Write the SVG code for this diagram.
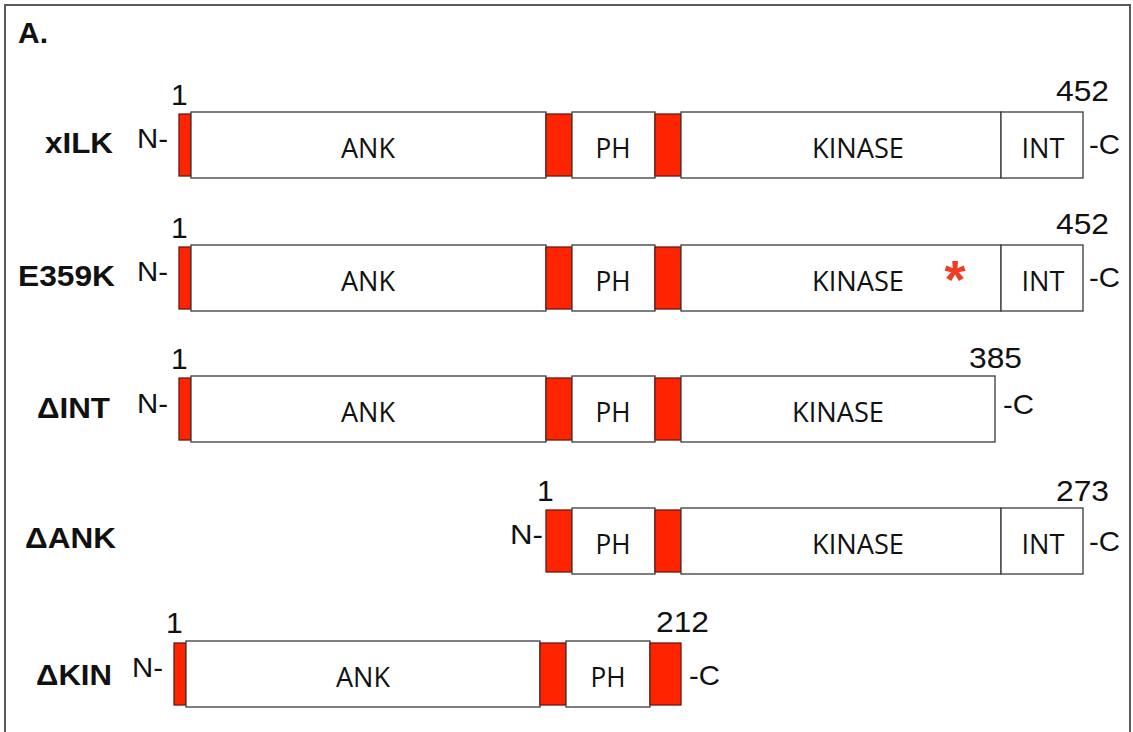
<svg xmlns="http://www.w3.org/2000/svg" width="1133" height="732" viewBox="0 0 1133 732">
<style>
.frame{fill:#fff;stroke:#5a5a5a;stroke-width:2}
.box{fill:#fff;stroke:#3a3a3a;stroke-width:1.3}
.red{fill:#ff2400;stroke:#6a1a10;stroke-width:1.3}
.dom{font-family:"Open Sans",sans-serif;font-size:28px;fill:#111;text-anchor:middle}
.lab{font-family:"Liberation Sans",Arial,sans-serif;font-weight:bold;font-size:30px;fill:#111}
.t{font-family:"Liberation Sans",Arial,sans-serif;font-size:28px;fill:#111}
.num{font-family:"Liberation Sans",Arial,sans-serif;font-size:30px;fill:#111}
.star{font-family:"Liberation Sans",Arial,sans-serif;font-weight:bold;font-size:54px;fill:#f03c24;text-anchor:middle}
</style>
<rect class="frame" x="5" y="5" width="1125" height="740"/>
<text class="lab" x="18" y="43" font-size="27">A.</text>

<g id="xILK">
<text class="lab" x="45" y="153" textLength="68" lengthAdjust="spacingAndGlyphs">xILK</text>
<text class="t" x="137" y="148" textLength="31" lengthAdjust="spacingAndGlyphs">N-</text>
<text class="num" x="171" y="105">1</text>
<text class="num" x="1056" y="101" textLength="53" lengthAdjust="spacingAndGlyphs">452</text>
<rect class="red" x="179" y="114" width="12" height="62"/>
<rect class="box" x="191" y="112" width="355" height="66"/>
<rect class="red" x="546" y="114" width="26" height="62"/>
<rect class="box" x="572" y="112" width="83" height="66"/>
<rect class="red" x="655" y="114" width="26" height="62"/>
<rect class="box" x="681" y="112" width="320" height="66"/>
<rect class="box" x="1001" y="112" width="82" height="66"/>
<text class="dom" x="368" y="158" textLength="54" lengthAdjust="spacingAndGlyphs">ANK</text>
<text class="dom" x="613" y="158" textLength="35" lengthAdjust="spacingAndGlyphs">PH</text>
<text class="dom" x="858" y="158" textLength="92" lengthAdjust="spacingAndGlyphs">KINASE</text>
<text class="dom" x="1043" y="158" textLength="43" lengthAdjust="spacingAndGlyphs">INT</text>
<text class="t" x="1089" y="154" textLength="31" lengthAdjust="spacingAndGlyphs">-C</text>
</g>

<g id="E359K">
<text class="lab" x="18" y="286" textLength="97" lengthAdjust="spacingAndGlyphs">E359K</text>
<text class="t" x="137" y="281" textLength="31" lengthAdjust="spacingAndGlyphs">N-</text>
<text class="num" x="171" y="238">1</text>
<text class="num" x="1056" y="234" textLength="53" lengthAdjust="spacingAndGlyphs">452</text>
<rect class="red" x="179" y="247" width="12" height="62"/>
<rect class="box" x="191" y="245" width="355" height="66"/>
<rect class="red" x="546" y="247" width="26" height="62"/>
<rect class="box" x="572" y="245" width="83" height="66"/>
<rect class="red" x="655" y="247" width="26" height="62"/>
<rect class="box" x="681" y="245" width="320" height="66"/>
<rect class="box" x="1001" y="245" width="82" height="66"/>
<text class="dom" x="368" y="291" textLength="54" lengthAdjust="spacingAndGlyphs">ANK</text>
<text class="dom" x="613" y="291" textLength="35" lengthAdjust="spacingAndGlyphs">PH</text>
<text class="dom" x="858" y="291" textLength="92" lengthAdjust="spacingAndGlyphs">KINASE</text>
<text class="dom" x="1043" y="291" textLength="43" lengthAdjust="spacingAndGlyphs">INT</text>
<text class="star" x="955" y="298">*</text>
<text class="t" x="1089" y="287" textLength="31" lengthAdjust="spacingAndGlyphs">-C</text>
</g>

<g id="dINT">
<text class="lab" x="37" y="418" textLength="73" lengthAdjust="spacingAndGlyphs">ΔINT</text>
<text class="t" x="137" y="413" textLength="31" lengthAdjust="spacingAndGlyphs">N-</text>
<text class="num" x="171" y="369">1</text>
<text class="num" x="969" y="368" textLength="53" lengthAdjust="spacingAndGlyphs">385</text>
<rect class="red" x="179" y="378" width="12" height="62"/>
<rect class="box" x="191" y="376" width="355" height="66"/>
<rect class="red" x="546" y="378" width="26" height="62"/>
<rect class="box" x="572" y="376" width="83" height="66"/>
<rect class="red" x="655" y="378" width="26" height="62"/>
<rect class="box" x="681" y="376" width="314" height="66"/>
<text class="dom" x="368" y="422" textLength="54" lengthAdjust="spacingAndGlyphs">ANK</text>
<text class="dom" x="613" y="422" textLength="35" lengthAdjust="spacingAndGlyphs">PH</text>
<text class="dom" x="838" y="422" textLength="92" lengthAdjust="spacingAndGlyphs">KINASE</text>
<text class="t" x="1003" y="414" textLength="31" lengthAdjust="spacingAndGlyphs">-C</text>
</g>

<g id="dANK">
<text class="lab" x="25" y="548" textLength="91" lengthAdjust="spacingAndGlyphs">ΔANK</text>
<text class="t" x="510" y="544" textLength="33" lengthAdjust="spacingAndGlyphs">N-</text>
<text class="num" x="537" y="501">1</text>
<text class="num" x="1056" y="501" textLength="53" lengthAdjust="spacingAndGlyphs">273</text>
<rect class="red" x="546" y="510" width="26" height="62"/>
<rect class="box" x="572" y="508" width="83" height="66"/>
<rect class="red" x="655" y="510" width="26" height="62"/>
<rect class="box" x="681" y="508" width="320" height="66"/>
<rect class="box" x="1001" y="508" width="82" height="66"/>
<text class="dom" x="613" y="554" textLength="35" lengthAdjust="spacingAndGlyphs">PH</text>
<text class="dom" x="858" y="554" textLength="92" lengthAdjust="spacingAndGlyphs">KINASE</text>
<text class="dom" x="1043" y="554" textLength="43" lengthAdjust="spacingAndGlyphs">INT</text>
<text class="t" x="1089" y="551" textLength="31" lengthAdjust="spacingAndGlyphs">-C</text>
</g>

<g id="dKIN">
<text class="lab" x="36" y="685" textLength="76" lengthAdjust="spacingAndGlyphs">ΔKIN</text>
<text class="t" x="132" y="677" textLength="31" lengthAdjust="spacingAndGlyphs">N-</text>
<text class="num" x="166" y="633">1</text>
<text class="num" x="656" y="632" textLength="53" lengthAdjust="spacingAndGlyphs">212</text>
<rect class="red" x="174" y="643" width="12" height="62"/>
<rect class="box" x="186" y="641" width="354" height="66"/>
<rect class="red" x="540" y="643" width="26" height="62"/>
<rect class="box" x="566" y="641" width="84" height="66"/>
<rect class="red" x="650" y="643" width="31" height="62"/>
<text class="dom" x="363" y="687" textLength="54" lengthAdjust="spacingAndGlyphs">ANK</text>
<text class="dom" x="608" y="687" textLength="35" lengthAdjust="spacingAndGlyphs">PH</text>
<text class="t" x="689" y="685" textLength="31" lengthAdjust="spacingAndGlyphs">-C</text>
</g>
</svg>
